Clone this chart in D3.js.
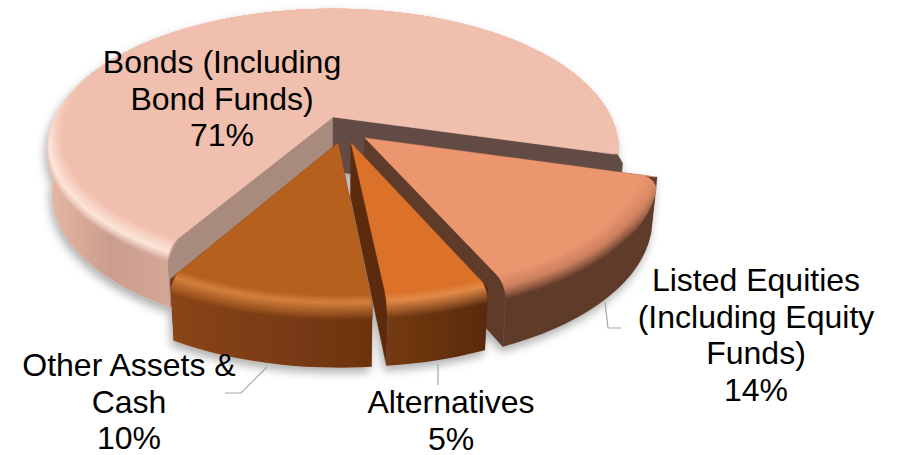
<!DOCTYPE html>
<html>
<head>
<meta charset="utf-8">
<script src="https://cdn.jsdelivr.net/npm/d3@7"></script>
<style>
  html, body { margin: 0; padding: 0; background: #fff; }
  svg { display: block; }
  text { font-family: "Liberation Sans", Arial, sans-serif; font-size: 32px; fill: #000; text-anchor: middle; }
</style>
</head>
<body>
<svg id="chart" width="903" height="455"></svg>
<script>
// values, in the order they go round the pie
const categories = ["Bonds", "Listed Equities", "Alternatives", "Other Assets"]
const shares = [71, 14, 5, 10]
const labelLines = [
  ["Bonds (Including", "Bond Funds)"],
  ["Listed Equities", "(Including Equity", "Funds)"],
  ["Alternatives"],
  ["Other Assets &", "Cash"]
]

var svg = d3.select("#chart")

// camera for the tilted pie
var cam = { cx: 333, cy: 117, F: 1555, D: 5.5, sinT: 0.46, cosT: 0.888 }
var project = (X, Y, Z) => {
  var depth = cam.D - Y * cam.cosT - Z * cam.sinT
  return [cam.cx + cam.F * X / depth, cam.cy + cam.F * (Y * cam.sinT - Z * cam.cosT) / depth]
}

var height = 0.22, bevelR = 0.945, bevelZ = 0.05

// how far each slice was pulled out and its radius, in disc units
var shifts = [[0, 0], [0.11, 0.157], [0.062, 0.193], [0.017, 0.193]]
var radii = [1, 0.995, 0.975, 0.98]

var looks = [
  { top: "#f1bfae", glow: "#fde6da", wallX: [46, 110, 171, 620], wall: ["#e6b8a5", "#cb9d8c", "#d4a797", "#c89b8a"],
    faces: ["#a98b7e", "#644c44"], glowAt: 0.6 },
  { top: "#ec9670", glow: "#cf8160", wallX: [370, 500, 660], wall: ["#5e3a2b", "#5f3a2a", "#5f3b2c"],
    faces: ["#5f3b2c", "#5f3b2c"], glowAt: 0.5 },
  { top: "#dc722b", glow: "#e38a48", wallX: [386, 490], wall: ["#753a12", "#582a0e"],
    faces: ["#5c2c0e", "#5c2c0e"], glowAt: 0.35 },
  { top: "#b5601f", glow: "#d5803c", wallX: [170, 372], wall: ["#8a4516", "#6c3310"],
    faces: ["#6c3310", "#6c3310"], glowAt: 0.35 }
]

var pie = d3.pie().sort(null).value(d => d)
  .startAngle(210.4 * Math.PI / 180)
  .endAngle((210.4 + 360) * Math.PI / 180)
var arcs = pie(shares)

var line = d3.line()

var defs = svg.append("defs")
var shadow = defs.append("filter").attr("id", "soft")
  .attr("x", "-10%").attr("y", "-10%").attr("width", "120%").attr("height", "125%")
shadow.append("feDropShadow")
  .attr("dx", -2).attr("dy", 5).attr("stdDeviation", 5)
  .attr("flood-color", "#000").attr("flood-opacity", 0.32)

looks.forEach((look, i) => {
  var x0 = look.wallX[0], x1 = look.wallX[look.wallX.length - 1]
  var grad = defs.append("linearGradient").attr("id", "wall" + i)
    .attr("gradientUnits", "userSpaceOnUse")
    .attr("x1", x0).attr("x2", x1).attr("y1", 0).attr("y2", 0)
  look.wallX.forEach((x, k) => {
    grad.append("stop").attr("offset", (x - x0) / (x1 - x0)).attr("stop-color", look.wall[k])
  })
})

var body = svg.append("g").attr("filter", "url(#soft)")

arcs.forEach((arc, i) => {
  var look = looks[i]
  var shift = shifts[i]
  var R = radii[i]
  var g = body.append("g").attr("class", "slice").attr("data-name", categories[i])

  var at = (r, a, z) => project(shift[0] + r * Math.sin(a), shift[1] - r * Math.cos(a), z)
  var steps = d3.range(0, Math.ceil((arc.endAngle - arc.startAngle) / 0.03) + 1)
  var angle = d3.scaleLinear().domain([0, steps.length - 1]).range([arc.startAngle, arc.endAngle])
  var wallColor = d3.scaleLinear().domain(look.wallX).range(look.wall).clamp(true)

  var drawFace = (a, color, over) => {
    g.append("path")
      .attr("class", "face")
      .attr("d", line([at(0, a, 0), at(R, a, 0), at(R * over, a, -0.03), at(R * over, a, -height), at(0, a, -height)]) + "Z")
      .attr("fill", color)
      .attr("stroke", color).attr("stroke-width", 0.5)
  }

  // the two cut faces go under the rim
  drawFace(arc.startAngle, look.faces[0], 1)
  if (i != 0) drawFace(arc.endAngle, look.faces[1], 1)

  // outer wall in one piece so the gradient stays smooth
  var wallPts = steps.map(s => at(R, angle(s), -height))
    .concat([at(R, arc.endAngle, -bevelZ)])
    .concat(steps.slice().reverse().map(s => at(R * bevelR, angle(s), 0)))
    .concat([at(R, arc.startAngle, -bevelZ)])
  g.append("path").attr("class", "wall")
    .attr("d", line(wallPts) + "Z")
    .attr("fill", "url(#wall" + i + ")")

  // bevel rows, outermost first, up to the edge of the flat top
  var rows = d3.range(17).map(n => {
    var t = 1 - n / 16
    return {
      r: R * (bevelR + (1 - bevelR) * Math.sin(t * Math.PI / 2)),
      z: -bevelZ * (1 - Math.cos(t * Math.PI / 2)),
      t: t
    }
  })

  var quads = []
  rows.slice(0, -1).forEach((row, k) => {
    var next = rows[k + 1]
    steps.slice(0, -1).forEach(s => {
      var a0 = angle(s), a1 = angle(s + 1), mid = (a0 + a1) / 2
      var pts = [at(row.r, a0, row.z), at(row.r, a1, row.z), at(next.r, a1, next.z), at(next.r, a0, next.z)]
      var wall = wallColor(at(R, mid, -bevelZ)[0])
      var t = (row.t + next.t) / 2
      var c = t < look.glowAt
        ? d3.interpolateRgb(look.top, look.glow)(t / look.glowAt)
        : d3.interpolateRgb(look.glow, wall)((t - look.glowAt) / (1 - look.glowAt))
      // the bevel faces away from us on the far side, light comes from the left
      var near = Math.max(0, Math.min(1, (-Math.cos(mid) - 0.25 * Math.sin(mid) + 0.1) / 0.5))
      quads.push({ pts: pts, c: d3.interpolateRgb(look.top, c)(near) })
    })
  })

  g.selectAll("path.rim").data(quads).enter().append("path")
    .attr("class", "rim")
    .attr("d", d => line(d.pts) + "Z")
    .attr("fill", d => d.c)
    .attr("stroke", d => d.c)
    .attr("stroke-width", 1)

  // bonds' dark face sits over the wall and runs out to its silhouette
  if (i == 0) drawFace(arc.endAngle, look.faces[1], 1.02)

  // flat top, run out close to the cut edges so no rim shows along the cuts
  var topPts = [at(0, arc.startAngle, 0)].concat(steps.map(s => at(R * bevelR, angle(s), 0)))
  topPts.splice(1, 0, at(R * 0.975, arc.startAngle, 0))
  topPts.push(at(R * 0.99, arc.endAngle, 0))
  if (i == 1) topPts[1] = at(R * 0.995, arc.startAngle, 0)
  g.append("path").attr("class", "top")
    .attr("d", line(topPts) + "Z")
    .attr("fill", look.top)
    .attr("stroke", look.top).attr("stroke-width", 0.5)
})

// leader lines
var leaders = [
  [[605, 302], [608, 328], [621, 328]],
  [[438, 364], [438, 385]],
  [[267, 367], [241, 393], [225, 393]]
]
svg.selectAll("path.leader").data(leaders).enter().append("path")
  .attr("class", "leader")
  .attr("d", d => line(d))
  .attr("fill", "none")
  .attr("stroke", "#a6a6a6")
  .attr("stroke-width", 1.2)

// labels: name lines then the percentage
var labelX = [222, 756, 451, 129]
var labelY = [73, 291, 413, 376]
var lineGap = 36.5
shares.forEach((v, i) => {
  var text = svg.append("text").attr("x", labelX[i]).attr("y", labelY[i])
  labelLines[i].concat([v + "%"]).forEach((t, k) => {
    text.append("tspan").attr("x", labelX[i]).attr("dy", k ? lineGap : 0).text(t)
  })
})
</script>
</body>
</html>
